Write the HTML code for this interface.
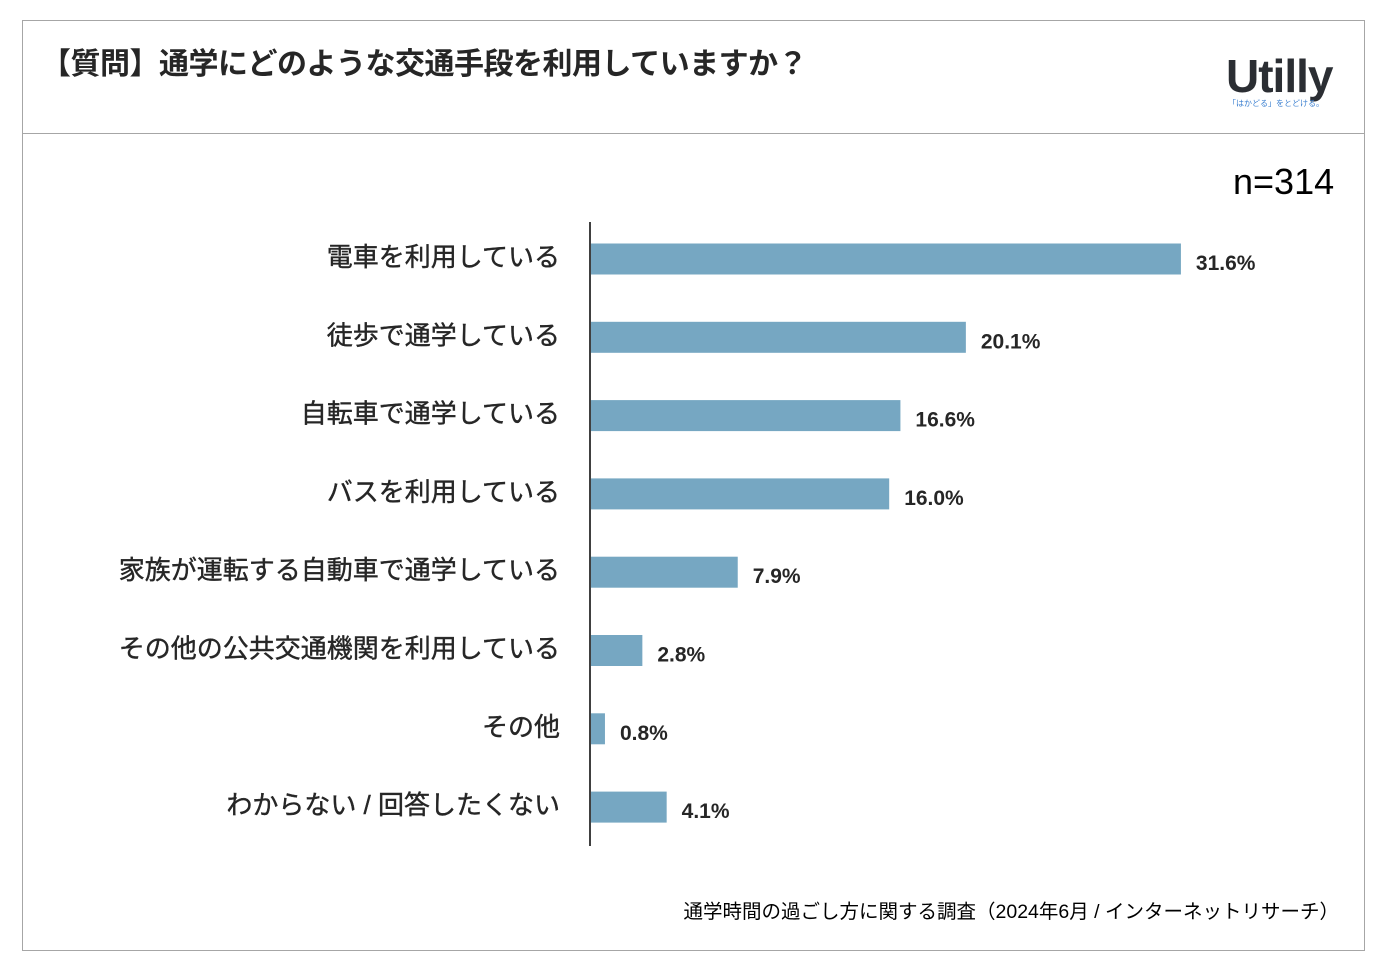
<!DOCTYPE html>
<html><head><meta charset="utf-8"><style>
body{margin:0;width:1394px;height:970px;background:#fff;font-family:"Liberation Sans","Noto Sans CJK JP",sans-serif;overflow:hidden}
#frame{position:absolute;left:22px;top:20px;width:1341px;height:929px;border:1.5px solid #a6a6a6}
#hdr{position:absolute;left:0;top:0;width:1341px;height:112px;border-bottom:1.5px solid #a6a6a6}
#title{position:absolute;left:18px;top:18px;font-size:30px;font-weight:bold;color:#262626;letter-spacing:-0.5px}
#logo{position:absolute;left:1203px;top:28px;font-size:46px;font-weight:bold;color:#2b2e33;letter-spacing:-1px}
#tag{position:absolute;left:1205px;top:77px;font-size:8px;color:#3a7fd0}
#n{position:absolute;left:1210px;top:140px;font-size:36px;color:#000}
#src{position:absolute;right:25px;top:874px;font-size:19.5px;color:#000}
</style></head><body>
<div id="frame">
<div id="hdr">
<div id="title">【質問】通学にどのような交通手段を利用していますか？</div>
<div id="logo">Utilly</div>
<div id="tag">「はかどる」をとどける。</div>
</div>
<div id="n">n=314</div>
<div id="src">通学時間の過ごし方に関する調査（2024年6月 / インターネットリサーチ）</div>
</div>
<svg id="chart" width="1394" height="970" style="position:absolute;left:0;top:0"></svg>
<script>
const categories=["電車を利用している","徒歩で通学している","自転車で通学している","バスを利用している","家族が運転する自動車で通学している","その他の公共交通機関を利用している","その他","わからない / 回答したくない"];
const values=[31.6,20.1,16.6,16.0,7.9,2.8,0.8,4.1];
const svg=document.getElementById('chart');
const NS='http://www.w3.org/2000/svg';
const x0=590,pxPer=18.7,y0=259,step=78.3,bh=31;
function xs(v){return x0+v*pxPer;}
function ys(i){return y0+i*step;}
const ax=document.createElementNS(NS,'line');
ax.setAttribute('x1',x0);ax.setAttribute('x2',x0);ax.setAttribute('y1',222);ax.setAttribute('y2',846);
ax.setAttribute('stroke','#000');ax.setAttribute('stroke-width','1.5');


svg.appendChild(ax);
categories.forEach((c,i)=>{
 const r=document.createElementNS(NS,'rect');
 r.setAttribute('x',x0+1);r.setAttribute('y',ys(i)-bh/2);r.setAttribute('width',xs(values[i])-x0-1);r.setAttribute('height',bh);r.setAttribute('fill','#76a7c2');
 
 
 svg.appendChild(r);
 const t=document.createElementNS(NS,'text');
 t.setAttribute('x',560);t.setAttribute('y',ys(i)+7);t.setAttribute('text-anchor','end');t.setAttribute('font-size','26');t.setAttribute('fill','#262626');t.setAttribute('stroke','#262626');t.setAttribute('stroke-width','0.4');
 t.textContent=c;
 
 
 svg.appendChild(t);
 const v=document.createElementNS(NS,'text');
 v.setAttribute('x',xs(values[i])+15);v.setAttribute('y',ys(i)+11);v.setAttribute('font-size','21');v.setAttribute('font-weight','bold');v.setAttribute('fill','#262626');
 v.textContent=values[i].toFixed(1)+'%';
 
 
 svg.appendChild(v);
});
</script>
</body></html>
